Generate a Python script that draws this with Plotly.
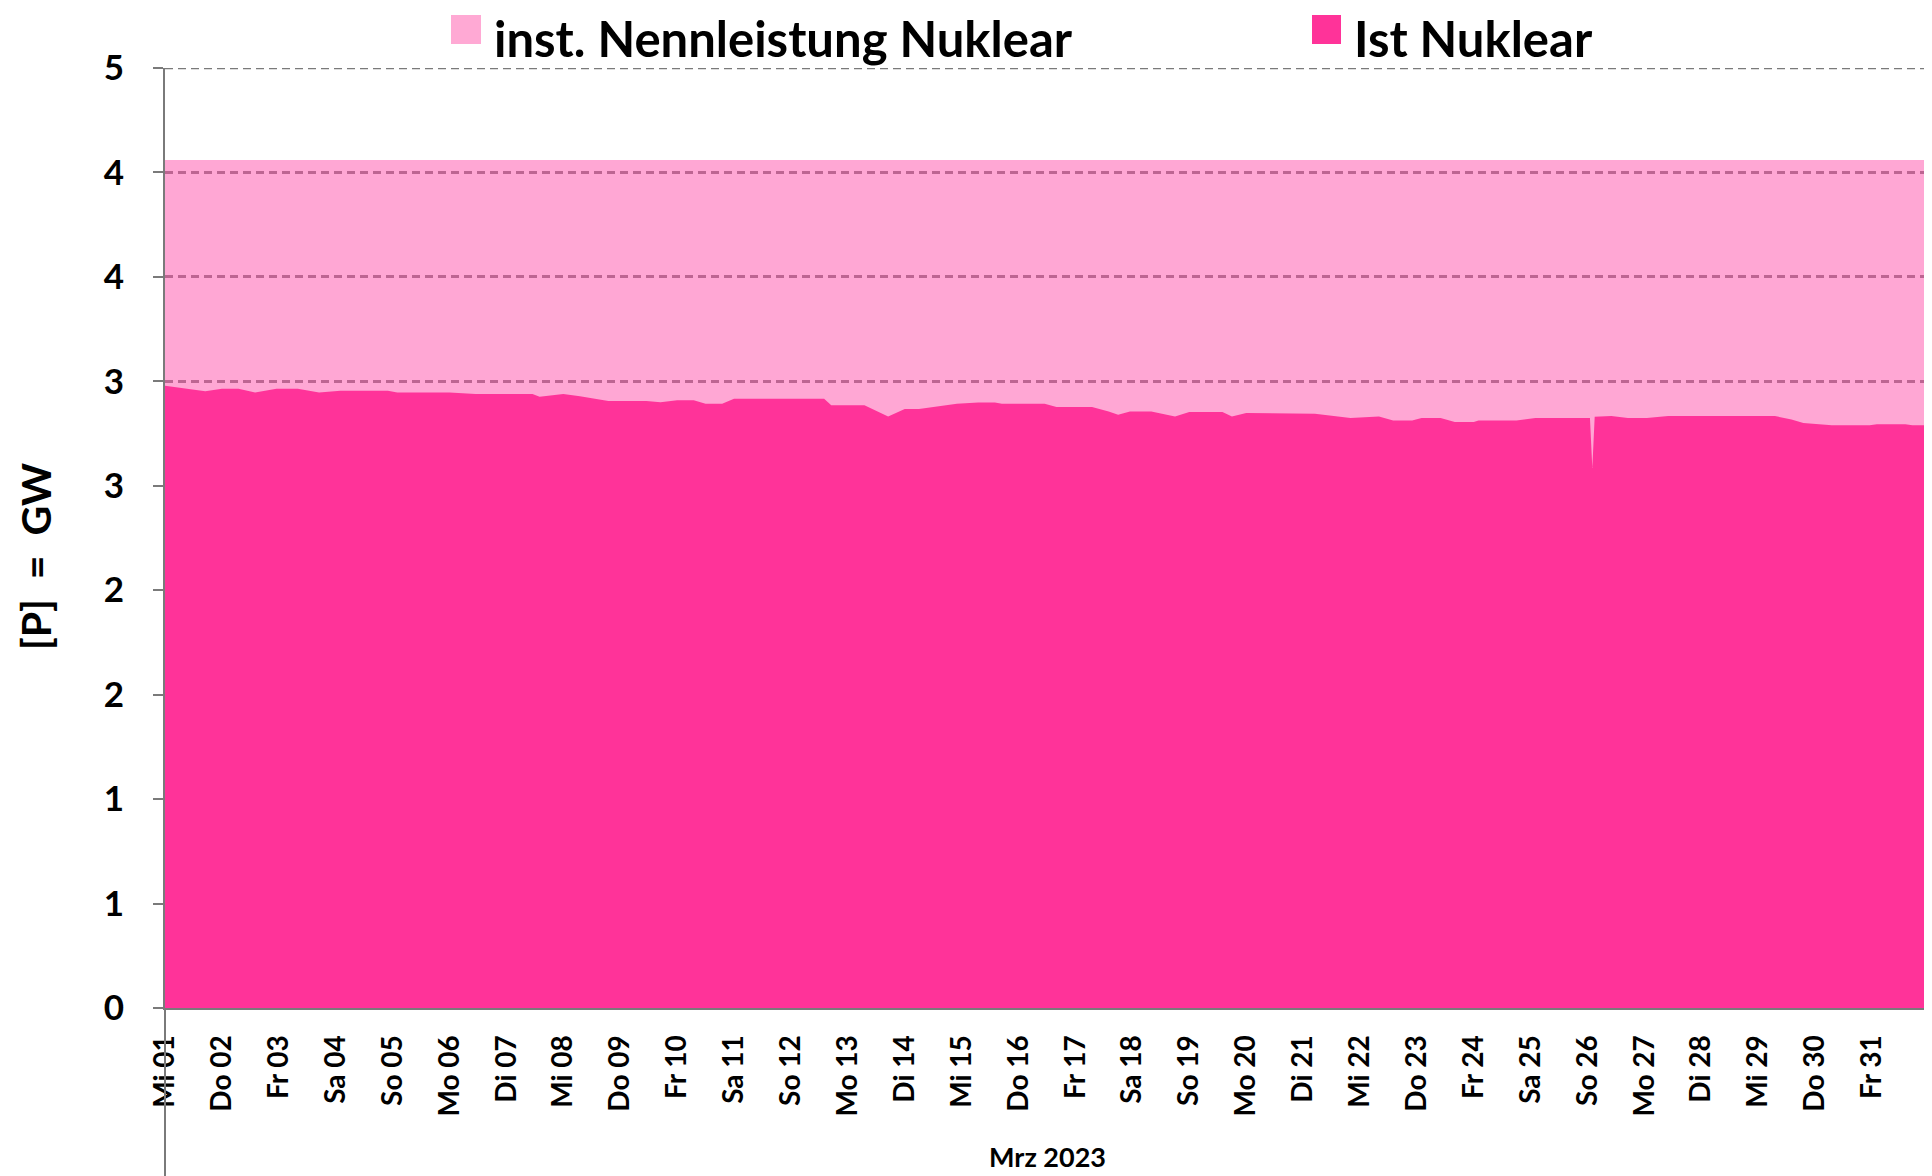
import plotly.graph_objects as go

# ---------------- data ----------------
zeit_ist = [
    "2023-03-01 00:00", "2023-03-01 10:00", "2023-03-01 17:00", "2023-03-02 00:00",
    "2023-03-02 07:00", "2023-03-02 14:00", "2023-03-02 23:00", "2023-03-03 08:00",
    "2023-03-03 17:00", "2023-03-04 02:00", "2023-03-04 22:00", "2023-03-05 02:00",
    "2023-03-06 00:00", "2023-03-06 11:00", "2023-03-07 11:00", "2023-03-07 14:00",
    "2023-03-08 00:00", "2023-03-08 07:00", "2023-03-08 19:00", "2023-03-09 11:00",
    "2023-03-09 17:00", "2023-03-10 00:00", "2023-03-10 07:00", "2023-03-10 12:00",
    "2023-03-10 19:00", "2023-03-11 00:00", "2023-03-12 14:00", "2023-03-12 17:00",
    "2023-03-13 07:00", "2023-03-13 17:00", "2023-03-14 00:00", "2023-03-14 06:00",
    "2023-03-14 12:00", "2023-03-14 22:00", "2023-03-15 07:00", "2023-03-15 14:00",
    "2023-03-15 17:00", "2023-03-16 11:00", "2023-03-16 16:00", "2023-03-17 07:00",
    "2023-03-17 14:00", "2023-03-17 18:00", "2023-03-17 23:00", "2023-03-18 08:00",
    "2023-03-18 18:00", "2023-03-19 00:00", "2023-03-19 14:00", "2023-03-19 18:00",
    "2023-03-20 00:00", "2023-03-20 23:00", "2023-03-21 05:00", "2023-03-21 20:00",
    "2023-03-22 08:00", "2023-03-22 14:00", "2023-03-22 22:00", "2023-03-23 02:00",
    "2023-03-23 10:00", "2023-03-23 16:00", "2023-03-24 00:00", "2023-03-24 02:00",
    "2023-03-24 18:00", "2023-03-25 02:00", "2023-03-26 01:00", "2023-03-26 02:00",
    "2023-03-26 03:00", "2023-03-26 10:00", "2023-03-26 17:00", "2023-03-27 01:00",
    "2023-03-27 10:00", "2023-03-28 00:00", "2023-03-29 07:00", "2023-03-29 14:00",
    "2023-03-29 19:00", "2023-03-30 07:00", "2023-03-30 23:00", "2023-03-31 02:00",
    "2023-03-31 14:00", "2023-03-31 17:00", "2023-03-31 23:45",
]
ist_nuklear = [
    2.979, 2.964, 2.953, 2.964,
    2.964, 2.947, 2.964, 2.964,
    2.947, 2.955, 2.955, 2.947,
    2.947, 2.939, 2.939, 2.926,
    2.939, 2.928, 2.906, 2.906,
    2.900, 2.910, 2.910, 2.893,
    2.893, 2.917, 2.917, 2.885,
    2.885, 2.832, 2.867, 2.867,
    2.877, 2.893, 2.899, 2.899,
    2.893, 2.893, 2.877, 2.877,
    2.856, 2.840, 2.856, 2.856,
    2.832, 2.853, 2.853, 2.832,
    2.848, 2.848, 2.845, 2.824,
    2.832, 2.813, 2.813, 2.824,
    2.824, 2.805, 2.805, 2.813,
    2.813, 2.824, 2.824, 2.585,
    2.830, 2.834, 2.824, 2.824,
    2.834, 2.834, 2.834, 2.817,
    2.800, 2.790, 2.790, 2.795,
    2.795, 2.790, 2.790,
]

zeit_nenn = ["2023-03-01 00:00", "2023-03-31 23:45"]
nenn_nuklear = [4.06, 4.06]

tag_daten = ["2023-03-%02d" % d for d in range(1, 32)]
tag_labels = [
    "Mi 01", "Do 02", "Fr 03", "Sa 04", "So 05", "Mo 06", "Di 07", "Mi 08", "Do 09",
    "Fr 10", "Sa 11", "So 12", "Mo 13", "Di 14", "Mi 15", "Do 16", "Fr 17", "Sa 18",
    "So 19", "Mo 20", "Di 21", "Mi 22", "Do 23", "Fr 24", "Sa 25", "So 26", "Mo 27",
    "Di 28", "Mi 29", "Do 30", "Fr 31",
]
y_ticks = [0, 0.5, 1, 1.5, 2, 2.5, 3, 3.5, 4, 4.5]
y_labels = ["0", "1", "1", "2", "2", "3", "3", "4", "4", "5"]
y_max = 4.5

name_nenn = "inst. Nennleistung Nuklear"
name_ist = "Ist Nuklear"

# ---------------- styling ----------------
OFF = 8  # default page margin of the html body
W, H = 1932 - OFF, 1176 - OFF
L, R, T = 165 - OFF, 3, 68 - OFF
B = H - (1008 - OFF)
PW, PH = W - L - R, H - T - B
FONT = "Lato"
C_NENN = "rgba(255,80,170,0.5)"
C_NENN_SOLID = "#FFA9D4"
C_IST = "#FF3399"
GRID = "#7a7a7a"
DASH = "8px,5px"


def px(xp):
    return (xp - OFF - L) / PW


def py(yp):
    return (T + PH - (yp - OFF)) / PH


fig = go.Figure()
fig.add_trace(go.Scatter(
    x=zeit_nenn, y=nenn_nuklear, name=name_nenn, mode="lines",
    line=dict(width=0, shape="hv"), fill="tozeroy", fillcolor=C_NENN,
    showlegend=False, hoverinfo="skip",
))
fig.add_trace(go.Scatter(
    x=zeit_ist, y=ist_nuklear, name=name_ist, mode="lines",
    line=dict(width=0), fill="tozeroy", fillcolor=C_IST,
    showlegend=False,
))

fig.update_layout(
    width=W, height=H,
    margin=dict(l=L, r=R, t=T, b=B, autoexpand=False),
    paper_bgcolor="white", plot_bgcolor="white",
    font=dict(family=FONT, color="black"),
    xaxis=dict(
        type="date",
        range=["2023-03-01 00:00", "2023-04-01 00:00"],
        tickmode="array", tickvals=tag_daten, ticktext=tag_labels,
        tickangle=-90,
        tickfont=dict(family=FONT, size=28, weight="bold", color="black"),
        showgrid=False, zeroline=False,
        showline=True, linecolor=GRID, linewidth=2,
        ticks="", ticklabelstandoff=14,
    ),
    yaxis=dict(
        range=[0, y_max],
        tickmode="array", tickvals=y_ticks, ticktext=y_labels,
        tickfont=dict(family=FONT, size=35, weight="bold", color="black"),
        showgrid=True, gridcolor=GRID, gridwidth=2.5, griddash=DASH,
        zeroline=False,
        showline=True, linecolor=GRID, linewidth=2,
        ticks="outside", ticklen=10, tickcolor=GRID, tickwidth=2,
        ticklabelstandoff=22,
    ),
    shapes=[
        # top gridline (at the range edge, not drawn by plotly's grid)
        dict(type="line", xref="paper", yref="y", x0=0, x1=1, y0=y_max, y1=y_max,
             line=dict(color=GRID, width=2.5, dash=DASH), layer="below"),
        dict(type="line", xref="paper", yref="paper", x0=0, x1=0, y0=0, y1=py(1180),
             line=dict(color=GRID, width=2)),
        dict(type="line", xref="paper", yref="paper", x0=1, x1=1, y0=0, y1=py(1180),
             line=dict(color=GRID, width=2)),
        # legend squares
        dict(type="rect", xref="paper", yref="paper",
             x0=px(451), x1=px(481), y0=py(44), y1=py(15),
             fillcolor=C_NENN_SOLID, line=dict(width=0)),
        dict(type="rect", xref="paper", yref="paper",
             x0=px(1312), x1=px(1341), y0=py(44), y1=py(15),
             fillcolor=C_IST, line=dict(width=0)),
    ],
    annotations=[
        dict(text=name_nenn, xref="paper", yref="paper", x=px(493), y=py(OFF),
             xanchor="left", yanchor="top", showarrow=False, borderpad=0,
             font=dict(family=FONT, size=49, weight="bold", color="black")),
        dict(text=name_ist, xref="paper", yref="paper", x=px(1353), y=py(OFF),
             xanchor="left", yanchor="top", showarrow=False, borderpad=0,
             font=dict(family=FONT, size=49, weight="bold", color="black")),
        dict(text="[P]  =  GW", xref="paper", yref="paper", x=px(35), y=py(557),
             xanchor="center", yanchor="middle", showarrow=False, textangle=-90,
             font=dict(family=FONT, size=41, weight="bold", color="black")),
        dict(text="Mrz 2023", xref="paper", yref="paper", x=px(1047), y=py(1156),
             xanchor="center", yanchor="middle", showarrow=False,
             font=dict(family=FONT, size=27, weight="bold", color="black")),
    ],
)

fig.write_html("out.html")
